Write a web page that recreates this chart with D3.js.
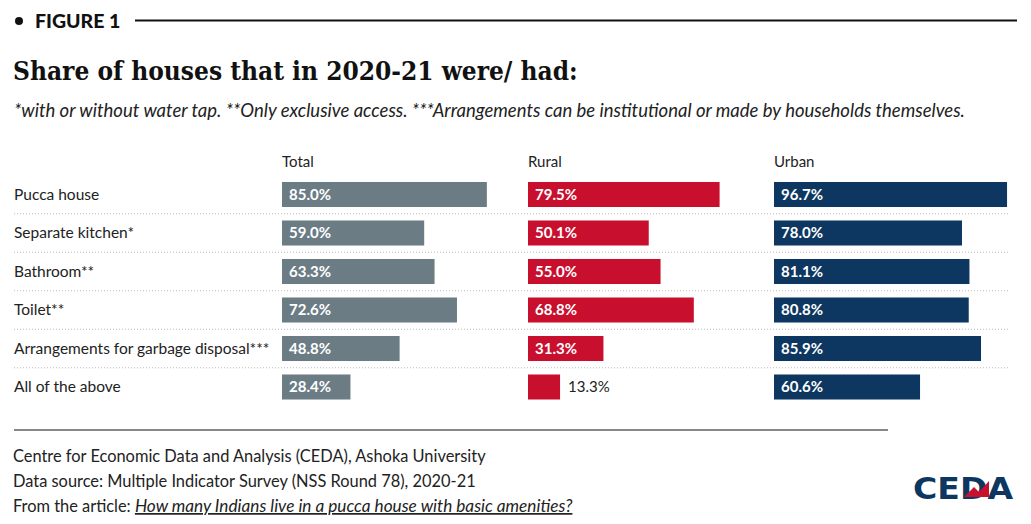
<!DOCTYPE html>
<html>
<head>
<meta charset="utf-8">
<script src="https://cdn.jsdelivr.net/npm/d3@7"></script>
<style>
  body { margin: 0; background: #fff; }
  svg { display: block; }
</style>
</head>
<body>
<div id="chart"></div>
<script>
// Chart data
const categories = ["Pucca house", "Separate kitchen*", "Bathroom**", "Toilet**",
  "Arrangements for garbage disposal***", "All of the above"];
const groups = ["Total", "Rural", "Urban"];
const totalValues = [85.0, 59.0, 63.3, 72.6, 48.8, 28.4];
const ruralValues = [79.5, 50.1, 55.0, 68.8, 31.3, 13.3];
const urbanValues = [96.7, 78.0, 81.1, 80.8, 85.9, 60.6];

const width = 1031, height = 524;
const sans = "'Lato', 'Noto Sans', sans-serif";
const colors = { Total: "#6b7c85", Rural: "#c8102e", Urban: "#0d3761" };

const svg = d3.select("#chart").append("svg")
  .attr("width", width).attr("height", height);

// Header: bullet, FIGURE 1 and rule
svg.append("circle").attr("cx", 19).attr("cy", 21).attr("r", 4).attr("fill", "#111");
svg.append("text").attr("x", 35).attr("y", 27.5)
  .attr("font-family", sans).attr("font-weight", 900).attr("font-size", 19.5)
  .attr("fill", "#111").text("FIGURE 1");
svg.append("line").attr("x1", 135).attr("x2", 1017).attr("y1", 20.5).attr("y2", 20.5)
  .attr("stroke", "#111").attr("stroke-width", 2);

// Title and subtitle
svg.append("text").attr("x", 13).attr("y", 80)
  .attr("font-family", "'DejaVu Serif Condensed', 'DejaVu Serif', serif")
  .attr("font-weight", 700).attr("font-size", 26)
  .attr("fill", "#111").text("Share of houses that in 2020-21 were/ had:");
svg.append("text").attr("x", 14).attr("y", 116.5)
  .attr("font-family", sans).attr("font-style", "italic").attr("font-size", 18.5)
  .attr("fill", "#222")
  .text("*with or without water tap. **Only exclusive access. ***Arrangements can be institutional or made by households themselves.");

// Scales
const y = d3.scaleBand().domain(categories).range([175.25, 406.25])
  .paddingInner(0.35).paddingOuter(0.175);
const colX = d3.scalePoint().domain(groups).range([282, 774]);
const x = d3.scaleLinear().domain([0, 100]).range([0, 241]);

// Dotted separators between rows
svg.append("g").selectAll("line")
  .data(categories.slice(0, -1))
  .join("line")
  .attr("x1", 14).attr("x2", 1008)
  .attr("y1", d => y(d) + y.bandwidth() + (y.step() - y.bandwidth()) / 2)
  .attr("y2", d => y(d) + y.bandwidth() + (y.step() - y.bandwidth()) / 2)
  .attr("stroke", "#bbb").attr("stroke-width", 1).attr("stroke-dasharray", "1,2");

// Category labels
svg.append("g").selectAll("text")
  .data(categories)
  .join("text")
  .attr("x", 14).attr("y", d => y(d) + y.bandwidth() / 2)
  .attr("dy", "0.35em")
  .attr("font-family", sans).attr("font-size", 15.5).attr("fill", "#222")
  .text(d => d);

// Column headers
svg.append("g").selectAll("text")
  .data(groups)
  .join("text")
  .attr("x", d => colX(d)).attr("y", 167)
  .attr("font-family", sans).attr("font-size", 15).attr("fill", "#222")
  .text(d => d);

// Bars for each group
const seriesData = { Total: totalValues, Rural: ruralValues, Urban: urbanValues };
groups.forEach(g => {
  const rows = categories.map((c, i) => ({ cat: c, value: seriesData[g][i] }));
  const col = svg.append("g").attr("transform", `translate(${colX(g)},0)`);

  col.selectAll("rect")
    .data(rows)
    .join("rect")
    .attr("x", 0).attr("y", d => y(d.cat))
    .attr("width", d => x(d.value)).attr("height", y.bandwidth())
    .attr("fill", colors[g]);

  // Labels go inside the bar unless the bar is too short
  col.selectAll("text")
    .data(rows)
    .join("text")
    .attr("x", d => x(d.value) < 50 ? x(d.value) + 8 : 7)
    .attr("y", d => y(d.cat) + y.bandwidth() / 2)
    .attr("dy", "0.36em")
    .attr("font-family", sans).attr("font-size", 15)
    .attr("font-weight", d => x(d.value) < 50 ? 400 : 700)
    .attr("fill", d => x(d.value) < 50 ? "#222" : "#fff")
    .text(d => d.value.toFixed(1) + "%");
});

// Footer
svg.append("line").attr("x1", 14).attr("x2", 888).attr("y1", 430).attr("y2", 430)
  .attr("stroke", "#111").attr("stroke-width", 1);
const foot = svg.append("g").attr("font-family", sans).attr("font-size", 16.4).attr("fill", "#222");
foot.append("text").attr("x", 13).attr("y", 462)
  .text("Centre for Economic Data and Analysis (CEDA), Ashoka University");
foot.append("text").attr("x", 13).attr("y", 487)
  .text("Data source: Multiple Indicator Survey (NSS Round 78), 2020-21");
const art = foot.append("text").attr("x", 13).attr("y", 512);
art.append("tspan").text("From the article: ");
art.append("tspan").attr("font-style", "italic").attr("text-decoration", "underline")
  .attr("font-size", 17.2)
  .text("How many Indians live in a pucca house with basic amenities?");

// CEDA logo
const logo = svg.append("g").attr("transform", "translate(913,499)");
logo.append("text").attr("x", 0).attr("y", 0)
  .attr("font-family", "'DejaVu Sans', sans-serif").attr("font-weight", 700)
  .attr("font-size", 31).attr("fill", "#0d3761")
  .attr("textLength", 100).attr("lengthAdjust", "spacingAndGlyphs")
  .text("CEDA");
logo.append("path")
  .attr("d", "M51,-2 L61,-12 L66,-7 L76,-18 L76,-2 Z")
  .attr("fill", "#c8102e");
</script>
</body>
</html>
